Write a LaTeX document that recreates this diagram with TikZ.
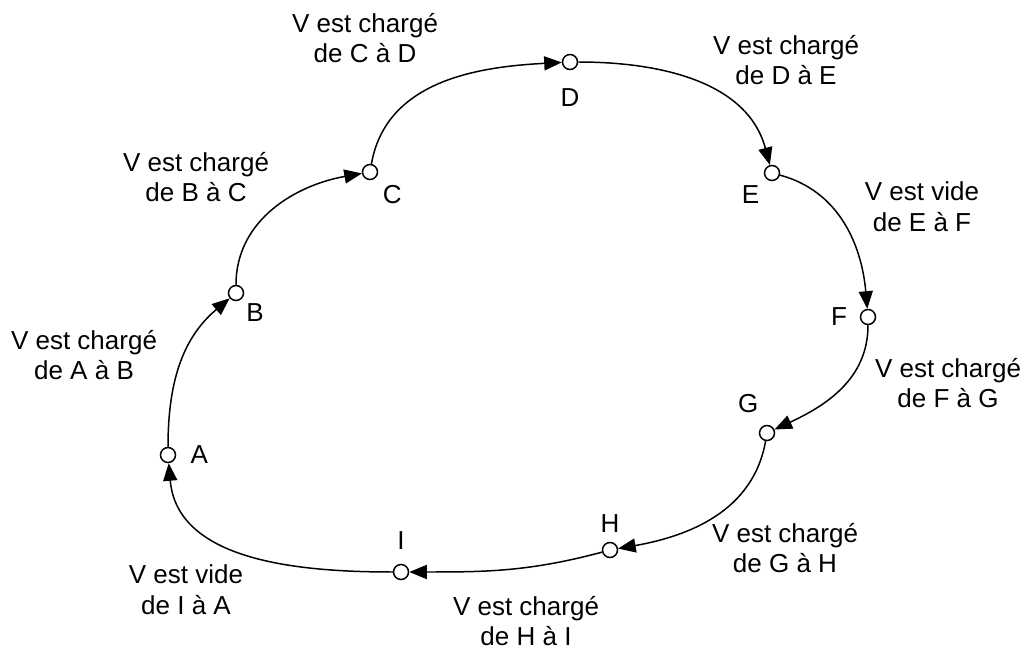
\documentclass[tikz,border=0pt]{standalone}
\usepackage{fontspec}
\setmainfont{Liberation Sans}
\usepackage{tikz}
\usetikzlibrary{arrows.meta,positioning}

\begin{document}
\begin{tikzpicture}[
    x=0.02cm, y=0.02cm,
    stop/.style={circle, draw, fill=white, line width=0.85pt, minimum size=0.3cm, inner sep=0pt},
    tag/.style={font=\fontsize{14.8}{17.5}\selectfont, inner sep=1pt},
    phase/.style={font=\fontsize{14.8}{17.5}\selectfont, align=center},
    trip/.style={-{Triangle[length=10pt, width=8pt]}, line width=0.85pt},
    label distance=2pt
]
    \useasboundingbox (0,0) rectangle (1028,650);

    % Stations
    \node[stop, label={[tag, label distance=7pt]right:A}] (A) at (168,195) {};
    \node[stop, label={[tag, label distance=2pt]below right:B}] (B) at (236,357) {};
    \node[stop, label={[tag, label distance=4pt]below right:C}] (C) at (370,478) {};
    \node[stop, label={[tag, label distance=9pt]below:D}] (D) at (570,588) {};
    \node[stop, label={[tag, label distance=4pt]below left:E}] (E) at (772,477) {};
    \node[stop, label={[tag, label distance=6pt]left:F}] (F) at (868,333) {};
    \node[stop, label={[tag, label distance=6pt]110:G}] (G) at (767,217) {};
    \node[stop, label={[tag, label distance=4pt]above:H}] (H) at (610,100) {};
    \node[stop, label={[tag, label distance=7pt]above:I}] (I) at (401,78) {};

    % Phases
    \node[phase] (pAB) at (84,295) {V est chargé\\de A à B};
    \node[phase] (pBC) at (196,473) {V est chargé\\de B à C};
    \node[phase] (pCD) at (365,612) {V est chargé\\de C à D};
    \node[phase] (pDE) at (786,590) {V est chargé\\de D à E};
    \node[phase] (pEF) at (922,443) {V est vide\\de E à F};
    \node[phase] (pFG) at (948,267) {V est chargé\\de F à G};
    \node[phase] (pGH) at (785,102) {V est chargé\\de G à H};
    \node[phase] (pHI) at (526,29) {V est chargé\\de H à I};
    \node[phase] (pIA) at (186,60) {V est vide\\de I à A};

    % Trips
    \draw[trip] (A) to[out=90, in=220] (B);
    \draw[trip] (B) to[out=90, in=190] (C);
    \draw[trip] (C) to[out=80, in=183] (D);
    \draw[trip] (D) to[out=0, in=105] (E);
    \draw[trip] (E) to[out=-15, in=95] (F);
    \draw[trip] (F) to[out=-90, in=25] (G);
    \draw[trip] (G) to[out=-100, in=10] (H);
    \draw[trip] (H) to[out=195, in=0] (I);
    \draw[trip] (I) to[out=180, in=-85] (A);
\end{tikzpicture}
\end{document}
